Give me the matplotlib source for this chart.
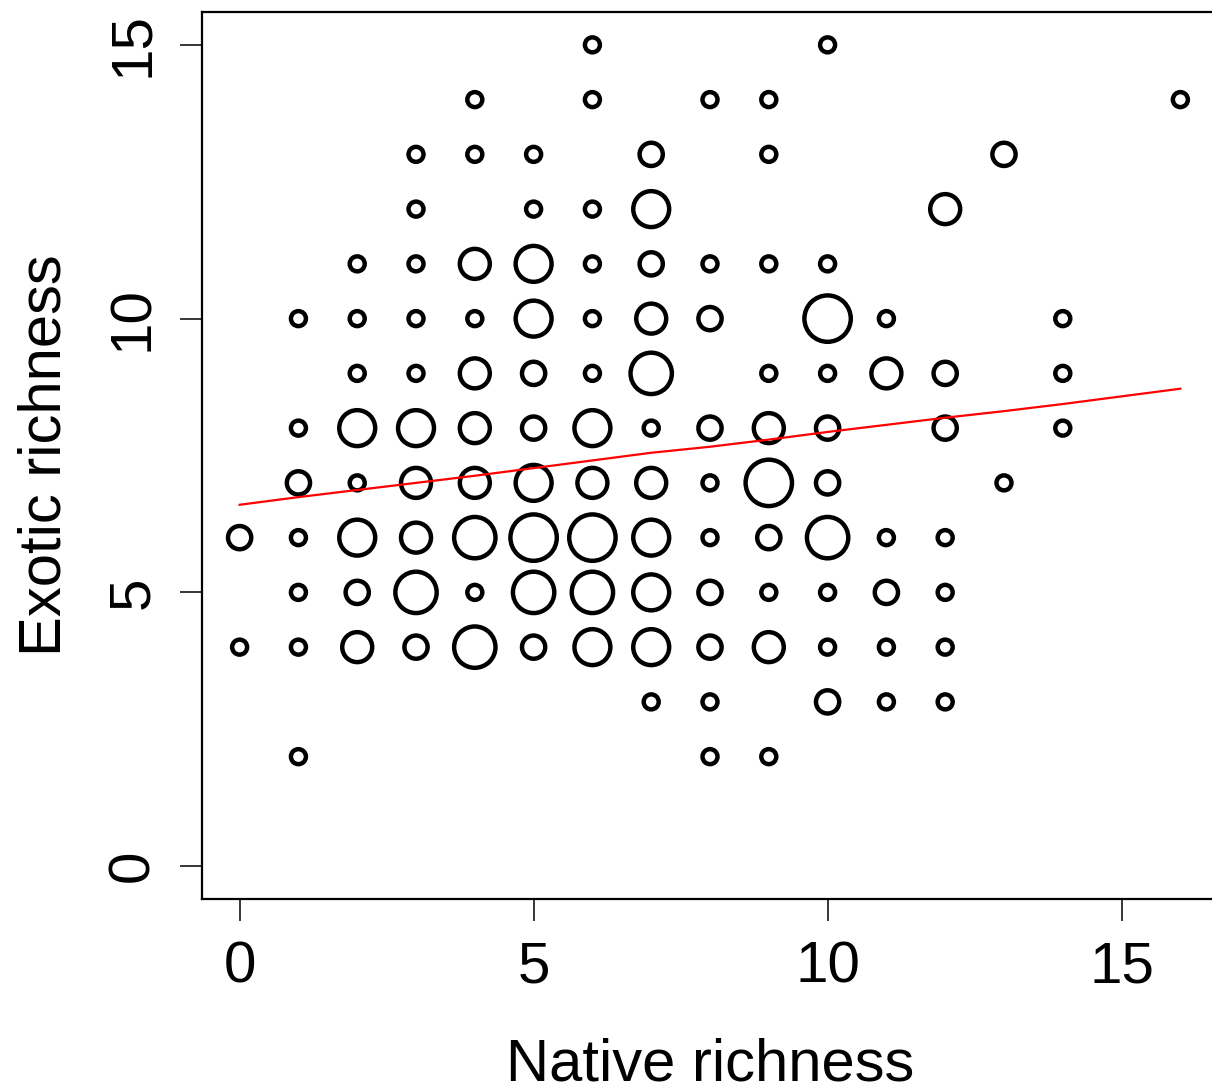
import matplotlib
matplotlib.use("Agg")
import matplotlib.pyplot as plt
import numpy as np

plt.rcParams["font.family"] = ["Liberation Sans", "DejaVu Sans"]

# plots grouped by (native, exotic) richness, with number of plots in each cell
native = [6, 10,
          4, 6, 8, 9, 16,
          3, 4, 5, 7, 9, 13,
          3, 5, 6, 7, 12,
          2, 3, 4, 5, 6, 7, 8, 9, 10,
          1, 2, 3, 4, 5, 6, 7, 8, 10, 11, 14,
          2, 3, 4, 5, 6, 7, 9, 10, 11, 12, 14,
          1, 2, 3, 4, 5, 6, 7, 8, 9, 10, 12, 14,
          1, 2, 3, 4, 5, 6, 7, 8, 9, 10, 13,
          0, 1, 2, 3, 4, 5, 6, 7, 8, 9, 10, 11, 12,
          1, 2, 3, 4, 5, 6, 7, 8, 9, 10, 11, 12,
          0, 1, 2, 3, 4, 5, 6, 7, 8, 9, 10, 11, 12,
          7, 8, 10, 11, 12,
          1, 8, 9]
exotic = ([15] * 2 + [14] * 5 + [13] * 6 + [12] * 5 + [11] * 9 + [10] * 11
          + [9] * 11 + [8] * 12 + [7] * 11 + [6] * 13 + [5] * 12 + [4] * 13
          + [3] * 5 + [2] * 3)
n_plots = [1, 1,
           1, 1, 1, 1, 1,
           1, 1, 1, 2, 1, 2,
           1, 1, 1, 4, 3,
           1, 1, 3, 4, 1, 2, 1, 1, 1,
           1, 1, 1, 1, 4, 1, 3, 2, 6, 1, 1,
           1, 1, 3, 2, 1, 5, 1, 1, 3, 2, 1,
           1, 4, 4, 3, 2, 4, 1, 2, 3, 2, 2, 1,
           2, 1, 3, 3, 4, 3, 3, 1, 6, 2, 1,
           2, 1, 4, 3, 5, 6, 6, 4, 1, 2, 5, 1, 1,
           1, 2, 5, 1, 5, 5, 4, 2, 1, 1, 2, 1,
           1, 1, 3, 2, 5, 2, 4, 4, 2, 3, 1, 1, 1,
           1, 1, 2, 1, 1,
           1, 1, 1]

# smoothed trend of exotic on native richness
trend_x = [0, 1, 2, 3, 4, 5, 6, 7, 8, 9, 10, 11, 12, 13, 14, 16]
trend_y = [6.60, 6.74, 6.87, 7.00, 7.13, 7.27, 7.41, 7.55, 7.66, 7.79,
           7.93, 8.06, 8.19, 8.31, 8.44, 8.72]

fig = plt.figure(figsize=(12.12, 10.89), dpi=100)
ax = fig.add_axes([202 / 1212, 190 / 1089, 1016 / 1212, 887 / 1089])

sizes = (10.8 * np.asarray(n_plots, dtype=float) ** 0.63) ** 2
ax.scatter(native, exotic, s=sizes, facecolors="none", edgecolors="black",
           linewidths=3.2, zorder=2)
ax.plot(trend_x, trend_y, color="red", linewidth=1.6, zorder=3)

ax.set_xlim(-0.64, 16.64)
ax.set_ylim(-0.6, 15.6)
ax.set_xticks([0, 5, 10, 15])
ax.set_yticks([0, 5, 10, 15])
ax.tick_params(axis="both", direction="out", length=16, width=1.1,
               labelsize=42, pad=14)
for lab in ax.get_yticklabels():
    lab.set_rotation(90)
    lab.set_va("center")

for side in ax.spines.values():
    side.set_linewidth(1.6)

ax.set_xlabel("Native richness", fontsize=43, labelpad=31)
ax.set_ylabel("Exotic richness", fontsize=43, labelpad=24)

fig.savefig("out.png", dpi=100, facecolor="white")
